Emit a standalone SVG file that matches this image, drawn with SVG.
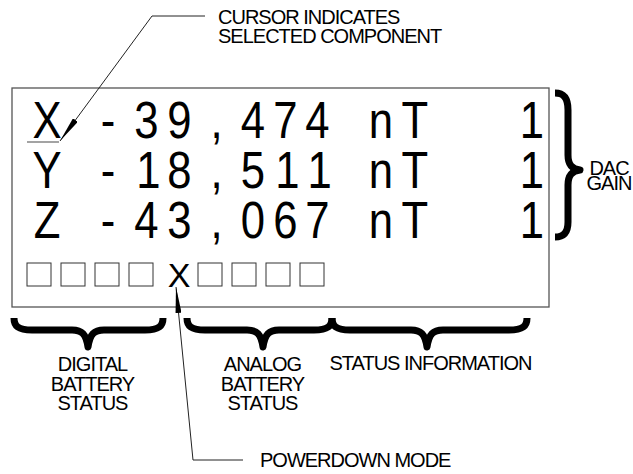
<svg xmlns="http://www.w3.org/2000/svg" width="633" height="474" viewBox="0 0 633 474">
<defs>
<style>
.lbl{font-family:"Liberation Sans",Arial,sans-serif;font-size:20px;letter-spacing:-1px;fill:#000}
.big{font-family:"Liberation Sans",Arial,sans-serif;font-size:52px;fill:#000}
.brace{fill:none;stroke:#000;stroke-width:7;stroke-linejoin:round;stroke-linecap:butt}
.lead{fill:none;stroke:#222;stroke-width:1}
.cell{fill:#fff;stroke:#333;stroke-width:1}
</style>
<marker id="ah" markerUnits="userSpaceOnUse" markerWidth="26" markerHeight="6" viewBox="0 0 26 6" refX="26" refY="3" orient="auto">
<path d="M0,0 L26,3 L0,6 z" fill="#000"/>
</marker>
</defs>
<rect width="633" height="474" fill="#fff"/>
<g id="display">
<rect x="12" y="88" width="537" height="219" fill="none" stroke="#555" stroke-width="1.3"/>
<g transform="scale(0.84 1)" class="big" text-anchor="middle">
<text y="138" x="56 128.6 174.4 213.7 257.7 301.2 339.9 378 453.6 494 633.3">X-39,474nT1</text>
<text y="188" x="56 128.6 176.8 213.7 257.7 301.2 342.3 380.4 453.6 494 633.3">Y-18,511nT1</text>
<text y="238" x="56 128.6 174.4 213.7 257.7 301.2 339.9 378 453.6 494 633.3">Z-43,067nT1</text>
</g>
<line x1="27" y1="142" x2="59" y2="142" stroke="#666" stroke-width="1.2"/>
<rect class="cell" x="27" y="263" width="24" height="23"/>
<rect class="cell" x="61" y="263" width="24" height="23"/>
<rect class="cell" x="95" y="263" width="24" height="23"/>
<rect class="cell" x="129" y="263" width="24" height="23"/>
<text x="179" y="287" text-anchor="middle" font-family="Liberation Sans, Arial, sans-serif" font-size="34">X</text>
<rect class="cell" x="198" y="263" width="24" height="23"/>
<rect class="cell" x="232" y="263" width="24" height="23"/>
<rect class="cell" x="266" y="263" width="24" height="23"/>
<rect class="cell" x="300" y="263" width="24" height="23"/>
</g>
<g id="cursor-label">
<text class="lbl" y="24"><tspan x="218">CURSOR INDICATES</tspan><tspan x="218" dy="19">SELECTED COMPONENT</tspan></text>
</g>
<g id="dac-gain">
<path class="brace" d="M555,93 C563,93 568,97 568,110 L568,155 C568,165 572,169 580,170 C572,171 568,175 568,185 L568,222 C568,233 563,237 555,237"/>
<text class="lbl" y="175" text-anchor="middle" font-size="19"><tspan x="609">DAC</tspan><tspan x="609" dy="15">GAIN</tspan></text>
</g>
<g id="digital-battery">
<path class="brace" d="M14,318 C14,326 18,330 32,330 L72,330 C82,330 86,334 88,347 C90,334 94,330 104,330 L145,330 C159,330 163,326 163,318"/>
<text class="lbl" y="371" text-anchor="middle"><tspan x="92.5">DIGITAL</tspan><tspan x="92.5" dy="19.5">BATTERY</tspan><tspan x="92.5" dy="19.5">STATUS</tspan></text>
</g>
<g id="analog-battery">
<path class="brace" d="M187,318 C187,326 191,330 205,330 L247,330 C257,330 261,334 263,347 C265,334 269,330 279,330 L314,330 C328,330 332,326 332,318"/>
<text class="lbl" y="371" text-anchor="middle"><tspan x="262.5">ANALOG</tspan><tspan x="262.5" dy="19.5">BATTERY</tspan><tspan x="262.5" dy="19.5">STATUS</tspan></text>
</g>
<g id="status-info">
<path class="brace" d="M332,318 C332,326 336,330 350,330 L411,330 C421,330 425,334 427,347 C429,334 433,330 443,330 L509,330 C523,330 527,326 527,318"/>
<text class="lbl" x="430.5" y="370" text-anchor="middle">STATUS INFORMATION</text>
</g>
<g id="powerdown-label">
<text class="lbl" x="260" y="467">POWERDOWN MODE</text>
</g>
<g id="connectors">
<path class="lead" d="M205,16 L152,16 L60,141" marker-end="url(#ah)"/>
<path class="lead" d="M243,460 L193,460 L176,287" marker-end="url(#ah)"/>
</g>
</svg>
